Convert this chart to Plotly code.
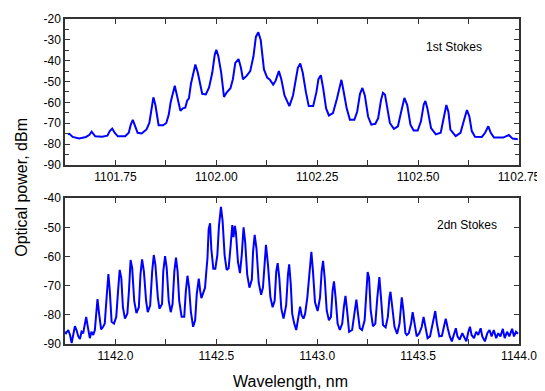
import plotly.graph_objects as go
from plotly.subplots import make_subplots

# ---- 1st Stokes (top panel) ----
wl1 = [1101.632, 1101.636, 1101.644, 1101.660, 1101.677, 1101.685, 1101.691, 1101.700, 1101.717, 1101.730,
       1101.736, 1101.742, 1101.748, 1101.756, 1101.774, 1101.783, 1101.788, 1101.793, 1101.799, 1101.805,
       1101.815, 1101.827, 1101.834, 1101.838, 1101.844, 1101.849, 1101.857, 1101.868, 1101.876, 1101.882,
       1101.887, 1101.897, 1101.903, 1101.911, 1101.917, 1101.923, 1101.928, 1101.932, 1101.937, 1101.943,
       1101.948, 1101.954, 1101.965, 1101.974, 1101.982, 1101.990, 1101.996, 1102.000, 1102.005, 1102.012,
       1102.019, 1102.025, 1102.035, 1102.041, 1102.047, 1102.055, 1102.061, 1102.066, 1102.075, 1102.084,
       1102.092, 1102.098, 1102.104, 1102.110, 1102.118, 1102.126, 1102.133, 1102.141, 1102.147, 1102.155,
       1102.161, 1102.169, 1102.181, 1102.190, 1102.196, 1102.202, 1102.208, 1102.214, 1102.222, 1102.229,
       1102.240, 1102.248, 1102.253, 1102.259, 1102.265, 1102.272, 1102.279, 1102.289, 1102.299, 1102.306,
       1102.310, 1102.315, 1102.323, 1102.331, 1102.342, 1102.349, 1102.356, 1102.362, 1102.368, 1102.376,
       1102.384, 1102.394, 1102.401, 1102.408, 1102.413, 1102.418, 1102.422, 1102.430, 1102.440, 1102.450,
       1102.458, 1102.466, 1102.473, 1102.481, 1102.489, 1102.499, 1102.507, 1102.514, 1102.518, 1102.523,
       1102.532, 1102.544, 1102.556, 1102.562, 1102.566, 1102.570, 1102.575, 1102.580, 1102.593, 1102.605,
       1102.613, 1102.621, 1102.627, 1102.633, 1102.641, 1102.658, 1102.666, 1102.674, 1102.680, 1102.688,
       1102.711, 1102.719, 1102.725, 1102.734, 1102.747]
p1 = [-75.4, -75.1, -76.6, -77.3, -76.6, -75.7, -74.1, -76.3, -76.5, -76.0,
      -73.8, -72.6, -74.6, -76.3, -76.3, -74.6, -70.7, -68.4, -71.5, -74.6,
      -74.9, -73.0, -69.9, -64.5, -57.6, -61.3, -71.0, -71.0, -69.9, -66.0,
      -59.8, -52.0, -56.7, -64.1, -62.9, -62.6, -59.0, -58.2, -51.2, -45.4,
      -41.8, -45.7, -55.9, -56.2, -52.8, -45.7, -37.2, -34.8, -37.9, -45.7,
      -57.4, -55.4, -53.2, -48.9, -41.1, -39.2, -43.4, -48.9, -47.3, -45.0,
      -37.9, -28.6, -26.4, -30.1, -44.2, -48.1, -49.2, -51.5, -49.6, -45.0,
      -48.9, -56.7, -61.8, -56.7, -50.4, -43.4, -41.4, -45.7, -55.1, -61.8,
      -61.8, -55.1, -48.9, -47.0, -53.5, -62.9, -66.3, -65.2, -58.2, -52.0,
      -49.2, -54.3, -62.9, -68.4, -68.4, -64.5, -55.9, -53.1, -56.7, -66.8,
      -70.7, -70.3, -67.6, -59.0, -55.4, -56.3, -61.3, -69.9, -72.7, -71.5,
      -64.5, -57.9, -61.3, -70.7, -73.5, -73.5, -69.1, -61.0, -59.3, -62.9,
      -72.3, -75.4, -74.6, -68.4, -66.0, -61.3, -64.5, -73.1, -76.2, -74.6,
      -69.1, -63.7, -66.8, -73.8, -76.5, -76.6, -74.6, -71.5, -74.6, -76.9,
      -76.9, -76.2, -75.7, -77.4, -77.7]

# ---- 2nd Stokes (bottom panel) ----
wl2 = [1141.750, 1141.755, 1141.766, 1141.775, 1141.783, 1141.791, 1141.799, 1141.807, 1141.816, 1141.824,
       1141.832, 1141.840, 1141.848, 1141.855, 1141.863, 1141.873, 1141.881, 1141.890, 1141.898, 1141.906,
       1141.911, 1141.919, 1141.929, 1141.939, 1141.947, 1141.955, 1141.965, 1141.972, 1141.981, 1141.993,
       1142.004, 1142.013, 1142.021, 1142.029, 1142.037, 1142.047, 1142.059, 1142.067, 1142.075, 1142.083,
       1142.093, 1142.104, 1142.116, 1142.124, 1142.132, 1142.141, 1142.152, 1142.160, 1142.172, 1142.182,
       1142.190, 1142.198, 1142.210, 1142.218, 1142.231, 1142.237, 1142.246, 1142.254, 1142.264, 1142.274,
       1142.283, 1142.292, 1142.300, 1142.308, 1142.316,
       1142.328, 1142.341, 1142.349, 1142.357, 1142.365, 1142.374, 1142.385, 1142.395, 1142.403, 1142.413,
       1142.420, 1142.426, 1142.436, 1142.444, 1142.451, 1142.456, 1142.462, 1142.469, 1142.475, 1142.485,
       1142.495, 1142.505, 1142.513, 1142.523, 1142.531, 1142.541, 1142.551, 1142.561, 1142.571, 1142.579,
       1142.585, 1142.592, 1142.597, 1142.607, 1142.617, 1142.626, 1142.635, 1142.643, 1142.653, 1142.664,
       1142.676, 1142.682, 1142.690, 1142.699, 1142.710, 1142.722, 1142.731, 1142.740, 1142.746, 1142.756,
       1142.768, 1142.779, 1142.789, 1142.797, 1142.804, 1142.812, 1142.822, 1142.833, 1142.846, 1142.855,
       1142.861, 1142.869,
       1142.876, 1142.886, 1142.896, 1142.904, 1142.915, 1142.923, 1142.932, 1142.940, 1142.951, 1142.961,
       1142.971, 1142.979, 1142.989, 1143.002, 1143.014, 1143.022, 1143.029, 1143.037, 1143.047, 1143.058,
       1143.068, 1143.076, 1143.083, 1143.091, 1143.101, 1143.112, 1143.124, 1143.132, 1143.140, 1143.148,
       1143.158, 1143.173, 1143.183, 1143.194, 1143.202, 1143.211, 1143.222, 1143.235, 1143.244, 1143.250,
       1143.257, 1143.265, 1143.276, 1143.288, 1143.298, 1143.308, 1143.316, 1143.326, 1143.339, 1143.350,
       1143.358, 1143.363, 1143.372, 1143.383, 1143.396, 1143.408, 1143.419, 1143.427, 1143.437,
       1143.444, 1143.454, 1143.465, 1143.473, 1143.483, 1143.493, 1143.506, 1143.518, 1143.527, 1143.536,
       1143.547, 1143.559, 1143.572, 1143.585, 1143.593, 1143.605, 1143.618, 1143.629, 1143.637, 1143.647,
       1143.657, 1143.667, 1143.678, 1143.687, 1143.695, 1143.706, 1143.719, 1143.728, 1143.739, 1143.749,
       1143.757, 1143.765, 1143.777, 1143.788, 1143.798, 1143.810, 1143.818, 1143.831, 1143.843, 1143.854,
       1143.864, 1143.875, 1143.887, 1143.897, 1143.908, 1143.920, 1143.929, 1143.941, 1143.952, 1143.966,
       1143.975, 1143.985, 1143.995]
p2 = [-85.8, -86.3, -85.2, -86.9, -89.7, -86.3, -83.9, -85.2, -87.4, -88.3,
      -85.8, -86.3, -83.5, -80.7, -84.1, -88.0, -85.8, -86.9, -85.2, -77.9,
      -74.6, -79.6, -85.0, -84.1, -83.0, -75.2, -66.0, -71.8, -82.4, -83.0,
      -80.7, -71.8, -64.6, -67.3, -77.4, -81.3, -79.6, -71.8, -61.2, -64.0,
      -75.2, -79.4, -77.4, -66.2, -61.0, -65.1, -75.2, -79.1, -76.8, -65.1,
      -59.5, -62.9, -74.0, -77.9, -76.3, -65.1, -59.9, -64.0, -75.2, -79.1,
      -76.3, -65.1, -60.4, -65.1, -75.2,
      -80.7, -80.7, -71.8, -66.6, -70.7, -79.1, -84.1, -81.9, -72.9, -67.6,
      -71.8, -74.3, -72.3, -70.7, -64.6, -60.6, -50.6, -48.6, -57.3, -64.2,
      -64.2, -59.5, -49.5, -43.0, -47.8, -59.5, -64.6, -64.0, -56.2, -49.2,
      -53.4, -49.5, -51.7, -61.8, -65.7, -59.5, -50.0, -55.1, -66.2, -70.7,
      -67.9, -58.4, -52.6, -57.3, -69.0, -73.1, -70.7, -60.6, -56.0, -62.9,
      -74.0, -77.4, -75.2, -65.1, -62.3, -67.3, -77.9, -81.3, -76.8, -66.2,
      -62.7, -69.6,
      -79.6, -83.0, -85.2, -81.9, -77.2, -80.2, -81.3, -79.6, -74.0, -66.2,
      -58.4, -65.1, -75.7, -78.7, -74.0, -65.1, -61.5, -67.3, -78.5, -81.9,
      -80.7, -71.8, -68.5, -74.0, -83.0, -85.2, -83.0, -77.4, -73.5, -78.5,
      -85.8, -85.2, -80.7, -74.8, -79.6, -84.6, -85.2, -81.9, -71.8, -65.3,
      -67.3, -78.5, -83.9, -83.0, -74.0, -67.1, -74.0, -83.5, -84.3, -80.7,
      -74.0, -72.1, -77.4, -84.1, -86.5, -83.0, -74.0, -78.5, -86.3,
      -86.9, -86.3, -83.0, -79.1, -83.0, -87.4, -86.3, -84.1, -80.7, -84.1,
      -88.0, -87.4, -83.0, -78.7, -83.0, -87.4, -87.2, -84.1, -81.3, -84.6,
      -87.4, -89.1, -86.3, -84.6, -87.4, -88.5, -86.3, -87.4, -89.1, -85.8,
      -84.1, -86.9, -88.0, -85.8, -86.9, -84.6, -87.4, -89.1, -86.3, -85.2,
      -87.4, -85.2, -88.0, -86.3, -87.4, -84.8, -88.0, -85.8, -87.4, -84.8,
      -87.4, -85.8, -86.5]

# ---- tick labels ----
x1_ticks = [1101.75, 1102.00, 1102.25, 1102.50, 1102.75]
x1_text = ["1101.75", "1102.00", "1102.25", "1102.50", "1102.75"]
y1_ticks = [-90, -80, -70, -60, -50, -40, -30, -20]
y1_text = ["-90", "-80", "-70", "-60", "-50", "-40", "-30", "-20"]
x2_ticks = [1142.0, 1142.5, 1143.0, 1143.5, 1144.0]
x2_text = ["1142.0", "1142.5", "1143.0", "1143.5", "1144.0"]
y2_ticks = [-90, -80, -70, -60, -50, -40]
y2_text = ["-90", "-80", "-70", "-60", "-50", "-40"]

FONT = "Liberation Sans, Arial, sans-serif"
LINE_COL = "#333333"

fig = make_subplots(rows=2, cols=1, vertical_spacing=0.1024)
fig.add_trace(go.Scatter(x=wl1, y=p1, mode="lines", line=dict(color="#0000ff", width=2),
                         showlegend=False), row=1, col=1)
fig.add_trace(go.Scatter(x=wl2, y=p2, mode="lines", line=dict(color="#0000ff", width=2),
                         showlegend=False), row=2, col=1)

axis_common = dict(showline=True, linecolor=LINE_COL, linewidth=1.5, mirror="ticks",
                   ticks="inside", ticklen=5, tickwidth=1, tickcolor=LINE_COL,
                   showgrid=False, zeroline=False,
                   tickfont=dict(family=FONT, size=12, color="#000000"))

fig.update_xaxes(range=[1101.625, 1102.75], tickvals=x1_ticks, ticktext=x1_text,
                 minor=dict(dtick=0.125, tick0=1101.625, ticks="inside", ticklen=5,
                            tickcolor=LINE_COL, showgrid=False),
                 row=1, col=1, **axis_common)
fig.update_yaxes(range=[-90, -20], tickvals=y1_ticks, ticktext=y1_text,
                 minor=dict(dtick=5, tick0=-90, ticks="inside", ticklen=4,
                            tickcolor=LINE_COL, showgrid=False),
                 row=1, col=1, **axis_common)
fig.update_xaxes(range=[1141.75, 1144.0], tickvals=x2_ticks, ticktext=x2_text,
                 minor=dict(dtick=0.25, tick0=1141.75, ticks="inside", ticklen=5,
                            tickcolor=LINE_COL, showgrid=False),
                 row=2, col=1, **axis_common)
fig.update_yaxes(range=[-90, -40], tickvals=y2_ticks, ticktext=y2_text,
                 row=2, col=1, **axis_common)

fig.update_layout(
    width=537, height=383,
    margin=dict(l=57, r=23, t=4, b=47),
    plot_bgcolor="#ffffff", paper_bgcolor="#ffffff",
    font=dict(family=FONT, size=12, color="#000000"),
    annotations=[
        dict(text="1st Stokes", x=1102.59, y=-33.5, xref="x", yref="y", showarrow=False,
             font=dict(family=FONT, size=12, color="#000000")),
        dict(text="2dn Stokes", x=1143.74, y=-49.2, xref="x2", yref="y2", showarrow=False,
             font=dict(family=FONT, size=12, color="#000000")),
        dict(text="Optical power, dBm", x=-0.096, y=0.482, xref="paper", yref="paper",
             textangle=-90, showarrow=False, xanchor="center", yanchor="middle",
             font=dict(family=FONT, size=16, color="#000000")),
        dict(text="Wavelength, nm", x=0.497, y=-0.1145, xref="paper", yref="paper",
             showarrow=False, xanchor="center", yanchor="middle",
             font=dict(family=FONT, size=16, color="#000000")),
    ],
)

fig.write_html("out.html")
